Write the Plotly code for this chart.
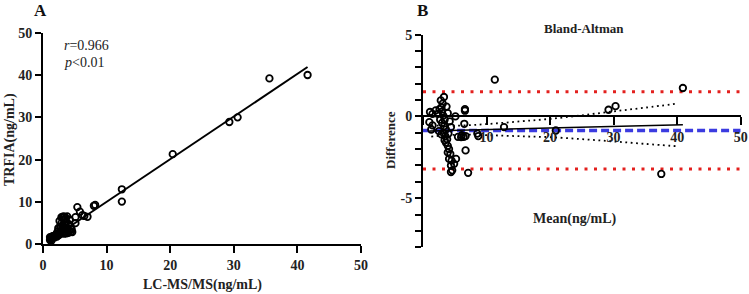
import plotly.graph_objects as go

# ---------------- Panel A data: LC-MS/MS vs TRFIA ----------------
lcms = [1.1, 1.2, 1.1, 1.3, 1.4, 1.5, 1.2, 1.8, 2.0, 2.2, 2.3, 2.5, 2.4, 2.6, 2.7, 2.8,
        2.9, 3.0, 3.0, 3.1, 3.2, 3.3, 3.3, 3.4, 3.5, 3.5, 3.6, 3.7, 3.8, 3.9, 4.0, 4.1,
        4.2, 4.3, 4.4, 2.6, 2.9, 3.2, 3.6, 4.5, 4.6, 4.0, 2.8, 3.4, 2.2, 1.7,
        5.1, 5.1, 5.4, 5.8, 6.2, 7.0, 6.5, 8.0, 8.2, 12.4, 12.4, 20.4, 29.3, 30.6, 35.6, 41.6]
trfia = [1.0, 1.5, 1.7, 0.8, 1.4, 1.9, 1.2, 1.6, 2.2, 1.8, 3.0, 2.2, 3.8, 2.6, 4.2, 3.2,
         5.0, 2.7, 6.3, 4.5, 3.5, 5.8, 2.5, 6.5, 4.0, 3.0, 5.2, 2.6, 6.6, 3.8, 4.8, 3.2,
         5.8, 4.2, 3.0, 5.5, 6.4, 6.6, 6.2, 3.6, 2.9, 2.7, 3.9, 4.6, 2.6, 2.0,
         5.0, 6.4, 8.8, 7.7, 6.9, 6.5, 6.7, 9.1, 9.3, 10.1, 13.0, 21.3, 28.9, 30.0, 39.2, 40.0]
fit_a_x = [1.0, 41.6]
fit_a_y = [0.95, 41.9]

# ---------------- Panel B data: Bland-Altman ----------------
ba_mean = [1.1, 1.0, 1.5, 1.5, 1.3, 2.0, 2.3, 2.6, 2.5, 2.8, 3.1, 3.3, 2.9, 3.0, 3.2, 3.4,
           3.0, 3.3, 3.6, 3.2, 3.5, 3.8, 3.6, 3.9, 4.1, 3.9, 4.3, 4.1, 4.5, 4.4, 4.6, 4.4,
           4.9, 5.2, 3.7, 3.9, 4.2, 4.4, 4.0, 3.4, 2.9, 2.7, 5.1, 5.5, 6.0, 6.4, 6.1,
           6.6, 6.6, 6.5, 6.7, 6.7, 7.1, 8.55, 8.7, 11.3, 12.75, 20.9, 29.2, 30.3, 37.5, 40.9]
ba_diff = [0.27, -0.35, 0.16, -0.55, -0.8, 0.37, 0.16, 0.45, -0.9, 0.98, 0.78, 1.19, 0.55, 0.3, 0.05, -0.2,
           -0.4, -0.6, -0.8, -1.0, -1.2, -1.4, -1.6, -1.8, -2.0, -2.2, -2.3, -2.6, -2.7, -3.0, -3.3, -3.4,
           -2.9, -2.6, 0.6, 0.2, -0.3, -0.65, -1.05, -1.45, -1.1, -0.2, 0.0, -1.25, -1.27, -1.25, -1.15,
           0.45, 0.35, -0.45, -1.2, -2.08, -3.45, -1.05, -1.2, 2.25, -0.65, -0.86, 0.41, 0.63, -3.52, 1.74]
bias = -0.86
loa_upper = 1.51
loa_lower = -3.21
fit_b_x = [1.0, 40.9]
fit_b_y = [-0.89, -0.51]
ci_x = [1.3, 3, 5, 8, 12, 16, 20, 25, 30, 35, 40.2]
ci_upper = [-0.55, -0.57, -0.57, -0.52, -0.41, -0.28, -0.15, 0.07, 0.31, 0.54, 0.79]
ci_lower = [-1.23, -1.17, -1.13, -1.12, -1.17, -1.22, -1.27, -1.39, -1.53, -1.68, -1.83]

W, H = 749, 294
FONT = "Liberation Serif"

def px_x(p):
    return p / W

def px_y(p):
    return 1 - p / H

# domains (paper fractions) from screen pixel positions
xa_dom = [px_x(43), px_x(361)]
ya_dom = [px_y(244.3), px_y(32.7)]
xb_dom = [px_x(423), px_x(740.7)]
yb_dom = [px_y(247.2), px_y(34.7)]
yb_range = [-8, 5]
xb_pos = yb_dom[0] + (yb_dom[1] - yb_dom[0]) * (0 - yb_range[0]) / (yb_range[1] - yb_range[0])

fig = go.Figure()

marker = dict(symbol="circle-open", size=6.5, color="black", line=dict(width=1.8, color="black"))

# Panel A
fig.add_trace(go.Scatter(x=fit_a_x, y=fit_a_y, mode="lines", line=dict(color="black", width=2),
                         xaxis="x", yaxis="y", hoverinfo="skip"))
fig.add_trace(go.Scatter(x=lcms, y=trfia, mode="markers", marker=marker, xaxis="x", yaxis="y"))

# Panel B
fig.add_trace(go.Scatter(x=[0, 50], y=[loa_upper, loa_upper], mode="lines",
                         line=dict(color="#e3201e", width=3, dash="3px,6.5px"), xaxis="x2", yaxis="y2"))
fig.add_trace(go.Scatter(x=[0, 50], y=[loa_lower, loa_lower], mode="lines",
                         line=dict(color="#e3201e", width=3, dash="3px,6.5px"), xaxis="x2", yaxis="y2"))
fig.add_trace(go.Scatter(x=[-0.3, 50], y=[bias, bias], mode="lines",
                         line=dict(color="#3b3be0", width=3.5, dash="8px,4px"), xaxis="x2", yaxis="y2"))
fig.add_trace(go.Scatter(x=fit_b_x, y=fit_b_y, mode="lines", line=dict(color="black", width=1.5),
                         xaxis="x2", yaxis="y2"))
fig.add_trace(go.Scatter(x=ci_x, y=ci_upper, mode="lines", line=dict(color="black", width=1.8, dash="1.8px,3.6px"),
                         line_shape="spline", xaxis="x2", yaxis="y2"))
fig.add_trace(go.Scatter(x=ci_x, y=ci_lower, mode="lines", line=dict(color="black", width=1.8, dash="1.8px,3.6px"),
                         line_shape="spline", xaxis="x2", yaxis="y2"))
fig.add_trace(go.Scatter(x=ba_mean, y=ba_diff, mode="markers", marker=marker, xaxis="x2", yaxis="y2"))

tickfont = dict(family=FONT, size=14, color="#222222", weight="bold")
axis_common = dict(showgrid=False, zeroline=False, showline=True, linecolor="black", linewidth=2,
                   ticks="outside", tickcolor="black", tickwidth=2, tickfont=tickfont, automargin=False)

fig.update_layout(
    width=W, height=H,
    margin=dict(l=0, r=0, t=0, b=0),
    paper_bgcolor="white", plot_bgcolor="white",
    showlegend=False,
    xaxis=dict(domain=xa_dom, range=[0, 50], tickvals=[0, 10, 20, 30, 40, 50], ticklen=7,
               anchor="y", **axis_common),
    yaxis=dict(domain=ya_dom, range=[0, 50], tickvals=[0, 10, 20, 30, 40, 50], ticklen=6,
               anchor="x", **axis_common),
    xaxis2=dict(domain=xb_dom, range=[0, 50], tickvals=[0, 10, 20, 30, 40, 50],
                ticktext=["", "10", "20", "30", "40", "50"], ticklen=8,
                anchor="free", position=xb_pos, **axis_common),
    yaxis2=dict(domain=yb_dom, range=yb_range, tickvals=list(range(-8, 6)),
                ticktext=["-5" if v == -5 else "0" if v == 0 else "5" if v == 5 else "" for v in range(-8, 6)],
                ticklen=6, anchor="x2", **axis_common),
)

title_font = dict(family=FONT, size=14, color="#222222", weight="bold")
annots = [
    dict(text="A", x=px_x(40), y=px_y(10), font=dict(family=FONT, size=17, color="#111", weight="bold")),
    dict(text="B", x=px_x(422), y=px_y(10), font=dict(family=FONT, size=17, color="#111", weight="bold")),
    dict(text="<i>r</i>=0.966", x=px_x(62), y=px_y(45), xanchor="left",
         font=dict(family=FONT, size=14, color="#222")),
    dict(text="<i>p</i><0.01", x=px_x(62), y=px_y(62), xanchor="left",
         font=dict(family=FONT, size=14, color="#222")),
    dict(text="LC-MS/MS(ng/mL)", x=px_x(203), y=px_y(285), font=title_font),
    dict(text="TRFIA(ng/mL)", x=px_x(10), y=px_y(140), textangle=-90, font=title_font),
    dict(text="Bland-Altman", x=px_x(584), y=px_y(28), font=dict(family=FONT, size=13, color="#222", weight="bold")),
    dict(text="Mean(ng/mL)", x=px_x(575), y=px_y(219), font=title_font),
    dict(text="Difference", x=px_x(390), y=px_y(140), textangle=-90, font=dict(family=FONT, size=13, color="#222", weight="bold")),
]
for a in annots:
    a.setdefault("xanchor", "center")
    a.update(xref="paper", yref="paper", yanchor="middle", showarrow=False)
fig.update_layout(annotations=annots)

fig.write_html("out.html", config={"displayModeBar": False},
               post_script="document.body.style.margin='0px';document.body.style.overflow='hidden';")
